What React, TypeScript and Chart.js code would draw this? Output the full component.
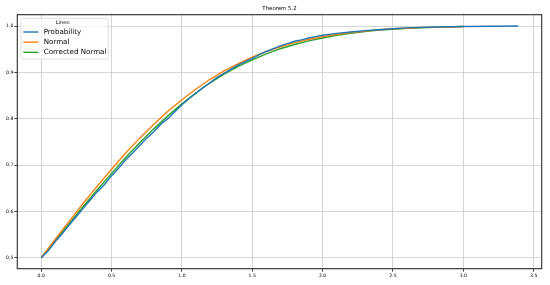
import { useEffect, useRef } from 'react';
import { Chart, registerables } from 'chart.js';
Chart.register(...registerables);

const TITLE = 'Theorem 5.2';
const LEGEND_TITLE = 'Lines:';
const SERIES_NAMES = ['Probability', 'Normal', 'Corrected Normal'];
const COLORS = ['#1f77b4', '#ff7f0e', '#2ca02c'];

const X_TICKS = [0, 0.5, 1.0, 1.5, 2.0, 2.5, 3.0, 3.5];
const Y_TICKS = [0.5, 0.6, 0.7, 0.8, 0.9, 1.0];

const X_PROB = [0, 0.05, 0.1, 0.15, 0.2, 0.25, 0.3, 0.35, 0.4, 0.45, 0.5, 0.55, 0.6, 0.65, 0.7, 0.75, 0.8, 0.85, 0.9, 0.95, 1.0, 1.05, 1.1, 1.15, 1.2, 1.25, 1.3, 1.35, 1.4, 1.45, 1.5, 1.55, 1.6, 1.65, 1.7, 1.75, 1.8, 1.85, 1.9, 1.95, 2.0, 2.1, 2.2, 2.3, 2.4, 2.5, 2.6, 2.7, 2.8, 2.9, 3.0, 3.2, 3.39];
const Y_PROB = [0.5, 0.515, 0.535, 0.552, 0.571, 0.589, 0.607, 0.625, 0.643, 0.658, 0.677, 0.693, 0.711, 0.726, 0.742, 0.758, 0.772, 0.788, 0.800, 0.815, 0.830, 0.843, 0.855, 0.867, 0.878, 0.889, 0.898, 0.907, 0.916, 0.923, 0.930, 0.938, 0.945, 0.951, 0.957, 0.962, 0.967, 0.970, 0.974, 0.977, 0.980, 0.984, 0.987, 0.990, 0.992, 0.994, 0.996, 0.997, 0.998, 0.9985, 0.999, 0.9995, 1.0];

const X_NORM = [0, 0.1, 0.2, 0.3, 0.4, 0.5, 0.6, 0.7, 0.8, 0.9, 1.0, 1.1, 1.2, 1.3, 1.4, 1.5, 1.6, 1.7, 1.8, 1.9, 2.0, 2.1, 2.2, 2.3, 2.4, 2.5, 2.6, 2.7, 2.8, 2.9, 3.0];
const Y_NORM = [0.5, 0.540, 0.579, 0.618, 0.655, 0.691, 0.726, 0.758, 0.788, 0.816, 0.841, 0.864, 0.885, 0.903, 0.919, 0.933, 0.945, 0.955, 0.964, 0.971, 0.977, 0.982, 0.986, 0.989, 0.992, 0.994, 0.995, 0.997, 0.997, 0.998, 0.999];
const Y_CORR = [0.5, 0.537, 0.574, 0.611, 0.647, 0.682, 0.716, 0.748, 0.778, 0.806, 0.832, 0.856, 0.877, 0.896, 0.913, 0.927, 0.940, 0.951, 0.960, 0.968, 0.974, 0.980, 0.984, 0.988, 0.991, 0.993, 0.995, 0.996, 0.997, 0.998, 0.999];

const FONT = '"DejaVu Sans", sans-serif';

const pts = (xs: number[], ys: number[]) => xs.map((x, i) => ({ x, y: ys[i] }));

const framePlugin = {
  id: 'frame',
  afterDatasetsDraw(chart: any) {
    const { ctx, chartArea: a } = chart;
    ctx.save();
    ctx.strokeStyle = '#2a2a2a';
    ctx.lineWidth = 1.1;
    ctx.strokeRect(a.left, a.top, a.right - a.left, a.bottom - a.top);
    ctx.fillStyle = '#000';
    ctx.font = `5.4px ${FONT}`;
    ctx.textAlign = 'center';
    ctx.textBaseline = 'middle';
    ctx.fillText(TITLE, (a.left + a.right) / 2, 8.5);
    ctx.restore();
  },
};

const legendPlugin = {
  id: 'innerLegend',
  afterDatasetsDraw(chart: any) {
    const { ctx } = chart;
    const bx = 21, by = 18.3, bw = 87.3, bh = 40.7, r = 2;
    ctx.save();
    ctx.beginPath();
    ctx.moveTo(bx + r, by);
    ctx.arcTo(bx + bw, by, bx + bw, by + bh, r);
    ctx.arcTo(bx + bw, by + bh, bx, by + bh, r);
    ctx.arcTo(bx, by + bh, bx, by, r);
    ctx.arcTo(bx, by, bx + bw, by, r);
    ctx.closePath();
    ctx.fillStyle = 'rgba(255,255,255,0.8)';
    ctx.fill();
    ctx.strokeStyle = '#d6d6d6';
    ctx.lineWidth = 0.8;
    ctx.stroke();
    ctx.fillStyle = '#000';
    ctx.font = `5px ${FONT}`;
    ctx.textAlign = 'center';
    ctx.textBaseline = 'middle';
    ctx.fillText(LEGEND_TITLE, bx + bw / 2 - 1.5, 22.7);
    ctx.font = `7.1px ${FONT}`;
    ctx.textAlign = 'left';
    chart.data.datasets.forEach((ds: any, i: number) => {
      const y = 32 + i * 10.15;
      ctx.strokeStyle = ds.borderColor;
      ctx.lineWidth = 1.4;
      ctx.beginPath();
      ctx.moveTo(23.3, y);
      ctx.lineTo(38.3, y);
      ctx.stroke();
      ctx.fillStyle = '#000';
      ctx.fillText(ds.label, 43.7, y + 0.3);
    });
    ctx.restore();
  },
};

export default function App() {
  const ref = useRef<HTMLCanvasElement>(null);
  useEffect(() => {
    document.body.style.margin = '0';
    const tickFont = { family: FONT, size: 4.6 };
    const chart = new Chart(ref.current!, {
      type: 'line',
      data: {
        datasets: [
          { label: SERIES_NAMES[0], data: pts(X_PROB, Y_PROB), borderColor: COLORS[0], backgroundColor: COLORS[0] },
          { label: SERIES_NAMES[1], data: pts(X_NORM, Y_NORM), borderColor: COLORS[1], backgroundColor: COLORS[1] },
          { label: SERIES_NAMES[2], data: pts(X_NORM, Y_CORR), borderColor: COLORS[2], backgroundColor: COLORS[2] },
        ],
      },
      options: {
        responsive: false,
        animation: false,
        devicePixelRatio: 1,
        layout: { padding: { left: 0, right: 8.3, top: 14.7, bottom: 0 } },
        elements: { point: { radius: 0 }, line: { tension: 0, borderWidth: 1.4 } },
        plugins: { legend: { display: false }, tooltip: { enabled: false }, title: { display: false } },
        scales: {
          x: {
            type: 'linear',
            min: -0.17,
            max: 3.557,
            afterBuildTicks: (s: any) => { s.ticks = X_TICKS.map((v) => ({ value: v })); },
            afterFit: (s: any) => { s.height = 16.3; },
            ticks: { font: tickFont, color: '#000', padding: 1, maxRotation: 0, autoSkip: false, callback: (v: any) => Number(v).toFixed(1) },
            grid: { color: '#d0d0d0', lineWidth: 0.9, tickLength: 3, tickColor: '#333' },
            border: { display: false },
          },
          y: {
            type: 'linear',
            min: 0.4762,
            max: 1.0244,
            afterBuildTicks: (s: any) => { s.ticks = Y_TICKS.map((v) => ({ value: v })); },
            afterFit: (s: any) => { s.width = 17.3; },
            ticks: { font: tickFont, color: '#000', padding: 1, autoSkip: false, callback: (v: any) => Number(v).toFixed(1) },
            grid: { color: '#d0d0d0', lineWidth: 0.9, tickLength: 3, tickColor: '#333' },
            border: { display: false },
          },
        },
      },
      plugins: [framePlugin, legendPlugin],
    } as any);
    return () => chart.destroy();
  }, []);
  return <canvas ref={ref} width={550} height={285} style={{ display: 'block' }} />;
}
